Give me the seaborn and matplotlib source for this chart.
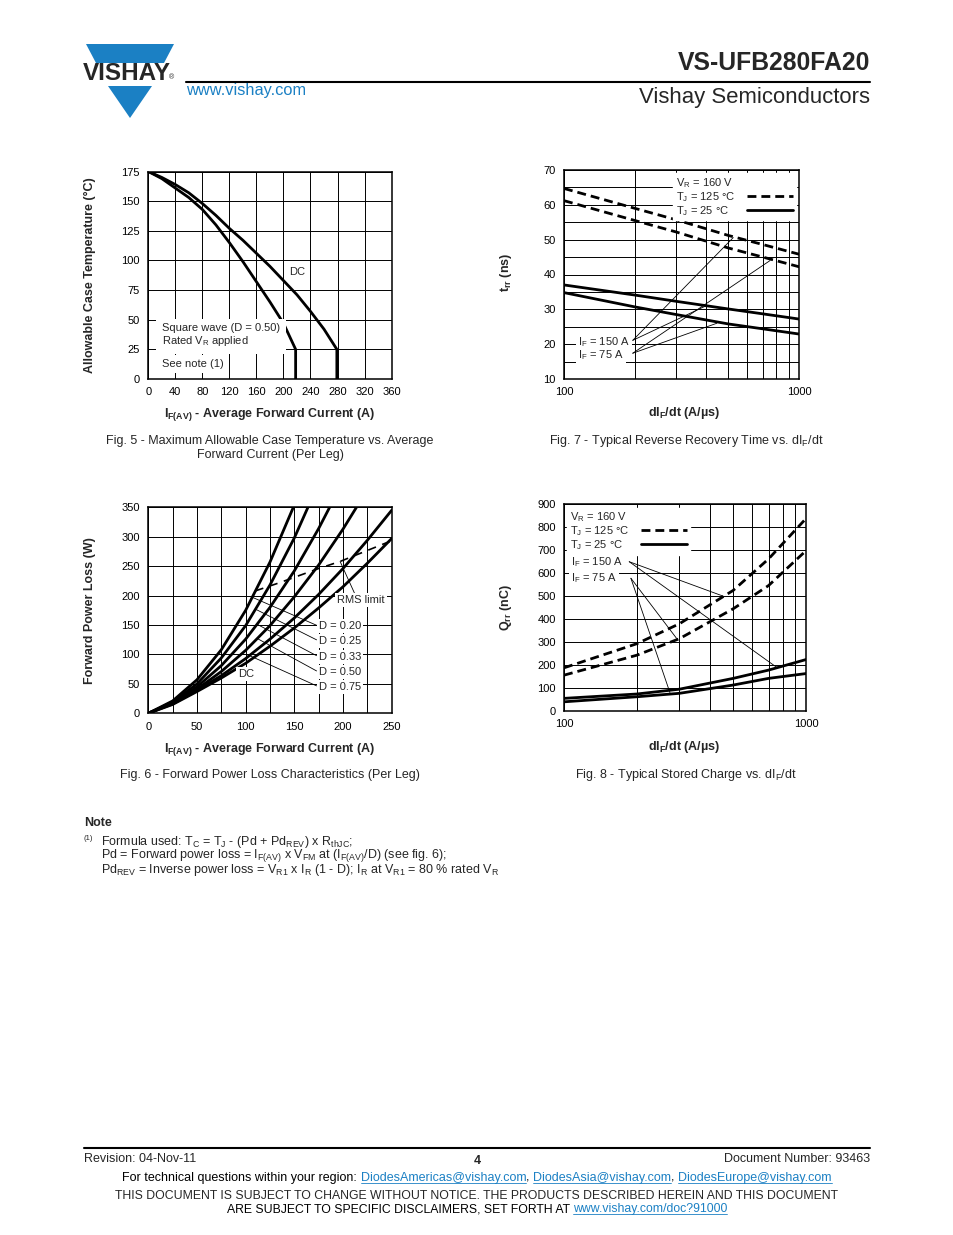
import matplotlib
matplotlib.use("Agg")
import matplotlib.pyplot as plt
import pandas as pd
import seaborn as sns
from matplotlib.lines import Line2D
from matplotlib.patches import Polygon
from matplotlib.ticker import MultipleLocator, NullFormatter

# Fig. 5 - max allowable case temperature vs average forward current
fig5_current_square = [0, 20, 40, 60, 80, 100, 120, 140, 160, 180, 200, 218, 218]
fig5_temp_square = [175, 169, 161, 153, 143, 130, 115, 99, 82, 65, 47, 25, 0]
fig5_current_dc = [0, 20, 40, 60, 80, 100, 120, 140, 160, 180, 200, 220, 240, 260, 279, 279]
fig5_temp_dc = [175, 170, 164, 157, 148, 138, 127, 117, 106, 95, 83, 71, 57, 42, 25, 0]

# Fig. 6 - forward power loss (per leg)
fig6_current = [0, 25, 50, 75, 100, 125, 150, 175, 200, 225, 250]
fig6_duty = ["0.20", "0.25", "0.33", "0.50", "0.75", "DC"]
fig6_loss = [
    [0, 21, 57, 108, 175, 257, 354, 467],
    [0, 19, 50, 94, 149, 218, 298, 391],
    [0, 18, 45, 81, 126, 180, 242, 314, 394],
    [0, 17, 41, 71, 107, 149, 198, 252, 313, 380],
    [0, 16, 39, 64, 93, 126, 162, 202, 246, 294, 345],
    [0, 15, 37, 60, 85, 114, 145, 179, 215, 255, 297],
]
fig6_rms_current = [110, 135, 175, 197, 248]
fig6_rms_loss = [208, 222, 246, 258, 292]

# Fig. 7 - trr vs dIF/dt
fig7_didt = [100, 200, 300, 500, 700, 1000]
fig7_trr_125_150 = [64.7, 59.0, 55.7, 51.2, 48.6, 45.8]
fig7_trr_125_75 = [61.2, 55.5, 52.2, 47.6, 45.0, 42.2]
fig7_trr_25_150 = [37.0, 34.1, 32.3, 30.1, 28.7, 27.2]
fig7_trr_25_75 = [34.8, 30.7, 28.5, 25.8, 24.4, 22.9]

# Fig. 8 - Qrr vs dIF/dt
fig8_didt = [100, 200, 300, 500, 700, 1000]
fig8_qrr_125_150 = [188, 293, 380, 525, 662, 838]
fig8_qrr_125_75 = [156, 243, 315, 445, 546, 698]
fig8_qrr_25_150 = [55, 74, 95, 142, 178, 224]
fig8_qrr_25_75 = [40, 62, 77, 113, 142, 163]

W, H = 954, 1235
BLUE = "#1b80c4"
DASH = (3.2, 1.8)
WHITE_BOX = dict(facecolor="white", edgecolor="none", pad=1.5)
TICK_FS = 8
LABEL_FS = 9
TEXT_FS = 8


def fx(px):
    return px / W


def fy(py):
    return 1 - py / H


def make_axes(fig, left, top, right, bottom):
    ax = fig.add_axes([fx(left), fy(bottom), (right - left) / W, (bottom - top) / H])
    ax.set_axisbelow(True)
    ax.grid(True, which="both", color="black", lw=0.7)
    ax.tick_params(which="both", length=0, labelsize=TICK_FS, pad=6, colors="black")
    for sp in ax.spines.values():
        sp.set_color("black")
        sp.set_linewidth(1.1)
    return ax


def label_axes(ax, xlabel, ylabel, xpos, ypos):
    ax.set_xlabel(xlabel, fontsize=LABEL_FS, fontweight="bold")
    ax.set_ylabel(ylabel, fontsize=LABEL_FS, fontweight="bold")
    ax.xaxis.set_label_coords(*xpos)
    ax.xaxis.label.set_va("center")
    ax.yaxis.set_label_coords(*ypos)
    ax.yaxis.label.set_va("center")


def recovery_frame(didt, series, col):
    parts = []
    for tj, amps, vals in series:
        parts.append(pd.DataFrame({"didt": didt, col: vals, "tj": tj, "curve": tj + amps}))
    return pd.concat(parts, ignore_index=True)


def tj_legend(fig, ax, loc):
    handles = [
        Line2D([], [], color="none"),
        Line2D([], [], color="black", lw=2, dashes=DASH),
        Line2D([], [], color="black", lw=2),
    ]
    labels = ["V$_R$ = 160 V", "T$_J$ = 125 °C", "T$_J$ = 25 °C"]
    leg = ax.legend(handles, labels, loc=loc, markerfirst=False, frameon=True,
                    fancybox=False, framealpha=1, edgecolor="white", facecolor="white",
                    fontsize=TEXT_FS, handlelength=4.2, handletextpad=1.0,
                    labelspacing=0.0, borderpad=0.25, borderaxespad=0.3)
    leg.set_zorder(3.5)
    # keep the label texts left aligned with the line keys on the right
    r = fig.canvas.get_renderer()
    widths = [t.get_window_extent(r).width for t in leg.texts]
    rows = leg._legend_handle_box.get_children()[0].get_children()
    for row, w in zip(rows, widths):
        row.sep += (max(widths) - w) * 72 / fig.dpi


def rich_line(fig, parts, y_px, x_px, ha="center", size=9):
    r = fig.canvas.get_renderer()
    space = size * 100 / 72 * 0.278
    arts = []
    for s, link, gap in parts:
        arts.append(fig.text(0, fy(y_px), s, fontsize=size, va="baseline",
                             color=BLUE if link else "black"))
    widths = [t.get_window_extent(r).width for t in arts]
    total = sum(widths) + space * sum(1 for p in parts if p[2])
    x = x_px - total / 2 if ha == "center" else x_px
    for t, w, (s, link, gap) in zip(arts, widths, parts):
        if gap:
            x += space
        t.set_x(fx(x))
        if link:
            fig.add_artist(Line2D([fx(x), fx(x + w)], [fy(y_px + 2), fy(y_px + 2)],
                                  color=BLUE, lw=0.6))
        x += w


sns.set_style("white")
plt.rcParams["font.family"] = ["Liberation Sans", "DejaVu Sans"]
plt.rcParams["mathtext.default"] = "regular"

fig = plt.figure(figsize=(W / 100, H / 100), dpi=100)
leader = dict(arrowstyle="-", lw=0.6, color="black", shrinkA=0, shrinkB=0)

# ---------------- Fig. 5 ----------------
ax5 = make_axes(fig, 148.3, 171.5, 391.6, 379)
fig5_df = pd.concat([
    pd.DataFrame({"I": fig5_current_square, "T": fig5_temp_square, "curve": "square"}),
    pd.DataFrame({"I": fig5_current_dc, "T": fig5_temp_dc, "curve": "dc"}),
], ignore_index=True)
sns.lineplot(data=fig5_df, x="I", y="T", units="curve", estimator=None, sort=False,
             color="black", lw=2, ax=ax5)
ax5.set_xlim(0, 360)
ax5.set_ylim(0, 175)
ax5.xaxis.set_major_locator(MultipleLocator(40))
ax5.yaxis.set_major_locator(MultipleLocator(25))
ax5.text(220, 90, "DC", fontsize=TEXT_FS, ha="center", va="center", bbox=WHITE_BOX,
         zorder=4)
ax5.text(20.3, 36.7, "Square wave (D = 0.50)\nRated V$_R$ applied", fontsize=TEXT_FS,
         ha="left", va="center", linespacing=1.15, zorder=4,
         bbox=dict(facecolor="white", edgecolor="none", pad=4))
ax5.text(20.3, 12.6, "See note (1)", fontsize=TEXT_FS, ha="left", va="center", zorder=4,
         bbox=dict(facecolor="white", edgecolor="none", pad=3))
label_axes(ax5, "I$_{F(AV)}$ - Average Forward Current (A)",
           "Allowable Case Temperature (°C)", (0.5, -0.169), (-0.24, 0.5))
fig.text(fx(270), fy(441), "Fig. 5 - Maximum Allowable Case Temperature vs. Average",
         fontsize=9, ha="center", va="center")
fig.text(fx(270), fy(455), "Forward Current (Per Leg)", fontsize=9, ha="center", va="center")

# ---------------- Fig. 7 ----------------
ax7 = make_axes(fig, 564, 170, 799.3, 379)
ax7.set_xscale("log")
fig7_df = recovery_frame(fig7_didt, [
    ("125", "150", fig7_trr_125_150), ("125", "75", fig7_trr_125_75),
    ("25", "150", fig7_trr_25_150), ("25", "75", fig7_trr_25_75),
], "trr")
sns.lineplot(data=fig7_df, x="didt", y="trr", units="curve", style="tj",
             dashes={"125": DASH, "25": ""}, estimator=None, color="black", lw=2,
             legend=False, ax=ax7)
ax7.set_xlim(100, 1000)
ax7.set_ylim(10, 70)
ax7.set_xticks([100, 1000], labels=["100", "1000"])
ax7.set_xticks([200, 300, 400, 500, 600, 700, 800, 900], minor=True)
ax7.xaxis.set_minor_formatter(NullFormatter())
ax7.yaxis.set_major_locator(MultipleLocator(10))
ax7.yaxis.set_minor_locator(MultipleLocator(5))
tj_legend(fig, ax7, "upper right")
ax7.text(114.7, 20.7, "I$_F$ = 150 A", fontsize=TEXT_FS, ha="left", va="center",
         bbox=WHITE_BOX, zorder=6)
ax7.text(114.7, 16.8, "I$_F$ = 75 A", fontsize=TEXT_FS, ha="left", va="center",
         bbox=WHITE_BOX, zorder=6)
for src, dst in [((196, 21.1), (524, 50.6)), ((196, 21.1), (404, 31.1)),
                 ((196, 17.4), (751, 44.0)), ((196, 17.4), (446, 26.0))]:
    ax7.annotate("", xy=dst, xytext=src, arrowprops=leader, zorder=3)
label_axes(ax7, "dI$_F$/dt (A/µs)", "t$_{rr}$ (ns)", (0.51, -0.163), (-0.246, 0.51))
fig.text(fx(686), fy(441), "Fig. 7 - Typical Reverse Recovery Time vs. dI$_F$/dt",
         fontsize=9, ha="center", va="center")

# ---------------- Fig. 6 ----------------
ax6 = make_axes(fig, 148.3, 507.3, 391.7, 713.3)
fig6_df = pd.concat([
    pd.DataFrame({"I": fig6_current[:len(vals)], "P": vals, "duty": d})
    for d, vals in zip(fig6_duty, fig6_loss)
], ignore_index=True)
sns.lineplot(data=fig6_df, x="I", y="P", units="duty", estimator=None, color="black",
             lw=2, ax=ax6)
sns.lineplot(x=fig6_rms_current, y=fig6_rms_loss, color="black", lw=1.2,
             linestyle=(0, (5, 4)), ax=ax6)
ax6.set_xlim(0, 250)
ax6.set_ylim(0, 350)
ax6.xaxis.set_major_locator(MultipleLocator(50))
ax6.xaxis.set_minor_locator(MultipleLocator(25))
ax6.yaxis.set_major_locator(MultipleLocator(50))
d_targets = [(107, 197), (110, 177), (112, 151), (112, 127), (104, 98)]
d_text_y = [148, 123, 96, 70, 45]
for d, (tx, ty), y in zip(fig6_duty[:5], d_targets, d_text_y):
    ax6.annotate(f"D = {d}", xy=(tx, ty), xytext=(175, y), fontsize=TEXT_FS, ha="left",
                 va="center", bbox=WHITE_BOX, zorder=4,
                 arrowprops=dict(arrowstyle="-", lw=0.6, color="black", shrinkA=0,
                                 shrinkB=0, relpos=(0, 0.5)))
ax6.annotate("RMS limit", xy=(197, 258), xytext=(218.5, 192.5), fontsize=TEXT_FS,
             ha="center", va="center", bbox=WHITE_BOX, zorder=4,
             arrowprops=dict(arrowstyle="-", lw=0.6, color="black", shrinkA=0,
                             shrinkB=0, relpos=(0.38, 1)))
ax6.text(100.3, 66.8, "DC", fontsize=TEXT_FS, ha="center", va="center", bbox=WHITE_BOX,
         zorder=4)
label_axes(ax6, "I$_{F(AV)}$ - Average Forward Current (A)", "Forward Power Loss (W)",
           (0.5, -0.178), (-0.24, 0.5))
fig.text(fx(270), fy(775), "Fig. 6 - Forward Power Loss Characteristics (Per Leg)",
         fontsize=9, ha="center", va="center")

# ---------------- Fig. 8 ----------------
ax8 = make_axes(fig, 564, 504.3, 806, 711)
ax8.set_xscale("log")
fig8_df = recovery_frame(fig8_didt, [
    ("125", "150", fig8_qrr_125_150), ("125", "75", fig8_qrr_125_75),
    ("25", "150", fig8_qrr_25_150), ("25", "75", fig8_qrr_25_75),
], "qrr")
sns.lineplot(data=fig8_df, x="didt", y="qrr", units="curve", style="tj",
             dashes={"125": DASH, "25": ""}, estimator=None, color="black", lw=2,
             legend=False, ax=ax8)
ax8.set_xlim(100, 1000)
ax8.set_ylim(0, 900)
ax8.set_xticks([100, 1000], labels=["100", "1000"])
ax8.set_xticks([200, 300, 400, 500, 600, 700, 800, 900], minor=True)
ax8.xaxis.set_minor_formatter(NullFormatter())
ax8.yaxis.set_major_locator(MultipleLocator(100))
tj_legend(fig, ax8, "upper left")
ax8.text(106.9, 648, "I$_F$ = 150 A", fontsize=TEXT_FS, ha="left", va="center",
         bbox=WHITE_BOX, zorder=6)
ax8.text(106.9, 578, "I$_F$ = 75 A", fontsize=TEXT_FS, ha="left", va="center",
         bbox=WHITE_BOX, zorder=6)
for src, dst in [((186, 650), (455, 500)), ((186, 650), (757, 190)),
                 ((189, 578), (292, 316)), ((189, 578), (274, 80))]:
    ax8.annotate("", xy=dst, xytext=src, arrowprops=leader, zorder=3)
label_axes(ax8, "dI$_F$/dt (A/µs)", "Q$_{rr}$ (nC)", (0.496, -0.174), (-0.24, 0.5))
fig.text(fx(686), fy(775), "Fig. 8 - Typical Stored Charge vs. dI$_F$/dt",
         fontsize=9, ha="center", va="center")

# ---------------- header ----------------
fig.patches.append(Polygon([(fx(86), fy(44)), (fx(174), fy(44)), (fx(164), fy(63)),
                            (fx(96), fy(63))], closed=True, transform=fig.transFigure,
                           facecolor=BLUE, edgecolor="none"))
fig.patches.append(Polygon([(fx(108), fy(86)), (fx(152), fy(86)), (fx(130), fy(118))],
                           closed=True, transform=fig.transFigure, facecolor=BLUE,
                           edgecolor="none"))
fig.text(fx(83), fy(74), "VISHAY", fontsize=17.5, fontweight="bold", ha="left",
         va="center")
fig.text(fx(169), fy(78), "®", fontsize=5, ha="left", va="center")
fig.text(fx(186), fy(91), "www.vishay.com", fontsize=11.8, color=BLUE, ha="left",
         va="center")
fig.text(fx(870), fy(63), "VS-UFB280FA20", fontsize=17.8, fontweight="bold", ha="right",
         va="center")
fig.text(fx(870), fy(98), "Vishay Semiconductors", fontsize=15.9, ha="right",
         va="center")
fig.add_artist(Line2D([fx(186), fx(870)], [fy(82), fy(82)], color="black", lw=1.5))

# ---------------- note ----------------
fig.text(fx(84), fy(823), "Note", fontsize=9, fontweight="bold", ha="left", va="center")
fig.text(fx(84), fy(838), "(1)", fontsize=5.5, ha="left", va="center")
fig.text(fx(101), fy(834),
         "Formula used: T$_C$ = T$_J$ - (Pd + Pd$_{REV}$) x R$_{thJC}$;\n"
         "Pd = Forward power loss = I$_{F(AV)}$ x V$_{FM}$ at (I$_{F(AV)}$/D) (see fig. 6);\n"
         "Pd$_{REV}$ = Inverse power loss = V$_{R1}$ x I$_R$ (1 - D); "
         "I$_R$ at V$_{R1}$ = 80 % rated V$_R$",
         fontsize=9, ha="left", va="top", linespacing=0.75)

# ---------------- footer ----------------
fig.add_artist(Line2D([fx(84), fx(870)], [fy(1148), fy(1148)], color="black", lw=1.5))
fig.text(fx(84), fy(1162), "Revision: 04-Nov-11", fontsize=9, ha="left", va="baseline")
fig.text(fx(477), fy(1164), "4", fontsize=9, fontweight="bold", ha="center",
         va="baseline")
fig.text(fx(870), fy(1162), "Document Number: 93463", fontsize=9, ha="right",
         va="baseline")
rich_line(fig, [("For technical questions within your region:", False, False),
                ("DiodesAmericas@vishay.com", True, True), (",", False, False),
                ("DiodesAsia@vishay.com", True, True), (",", False, False),
                ("DiodesEurope@vishay.com", True, True)], 1181, 477)
fig.text(fx(477), fy(1199),
         "THIS DOCUMENT IS SUBJECT TO CHANGE WITHOUT NOTICE. THE PRODUCTS DESCRIBED HEREIN AND THIS DOCUMENT",
         fontsize=8.8, ha="center", va="baseline")
rich_line(fig, [("ARE SUBJECT TO SPECIFIC DISCLAIMERS, SET FORTH AT", False, False),
                ("www.vishay.com/doc?91000", True, True)], 1212, 477, size=8.8)

fig.savefig("out.png", dpi=100)
